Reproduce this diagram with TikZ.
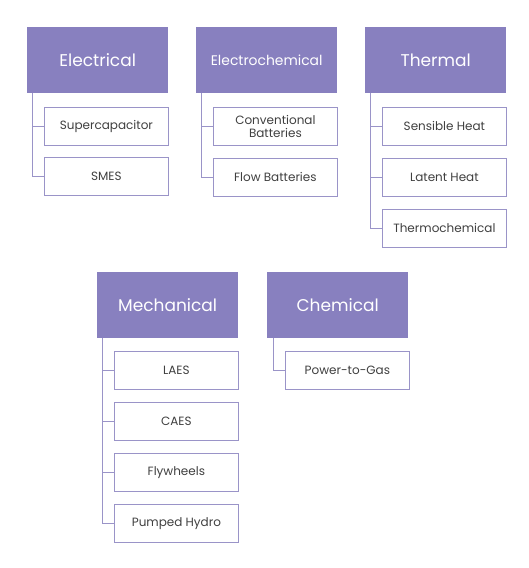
\documentclass[tikz,border=0pt]{standalone}
\usepackage{fontspec}
\setmainfont{Poppins}
\definecolor{hdr}{HTML}{8880BF}
\definecolor{bord}{HTML}{9A94C8}
\definecolor{txt}{HTML}{404040}
\tikzset{
  hdrbox/.style={fill=hdr, draw=none, text=white, minimum width=141pt, minimum height=66pt, inner sep=0pt, font=\fontsize{17}{19}\selectfont, anchor=north west},
  subbox/.style={fill=white, draw=bord, line width=0.8pt, text=txt, minimum width=124pt, minimum height=38pt, inner sep=0pt, align=center, font=\fontsize{12}{12.5}\selectfont, anchor=north west},
  conn/.style={draw=bord, line width=0.9pt}
}
\begin{document}
\begin{tikzpicture}[x=1pt,y=-1pt]
\useasboundingbox[fill=white] (0,0) rectangle (529,568);
% Electrical
\node[hdrbox] (el) at (27,27) {Electrical};
\node[subbox] (el1) at (44,107) {Supercapacitor};
\node[subbox] (el2) at (44,157) {SMES};
\draw[conn] ([xshift=5pt]el.south west) |- (el2.west);
\draw[conn] ([xshift=5pt]el.south west) |- (el1.west);
% Electrochemical
\node[hdrbox, font=\fontsize{13.9}{15}\selectfont] (ec) at (196,27) {Electrochemical};
\node[subbox] (ec1) at (213,107) {Conventional\\Batteries};
\node[subbox] (ec2) at (213,158) {Flow Batteries};
\draw[conn] ([xshift=5pt]ec.south west) |- (ec2.west);
\draw[conn] ([xshift=5pt]ec.south west) |- (ec1.west);
% Thermal
\node[hdrbox] (th) at (365,27) {Thermal};
\node[subbox] (th1) at (382,107) {Sensible Heat};
\node[subbox] (th2) at (382,158) {Latent Heat};
\node[subbox] (th3) at (382,209) {Thermochemical};
\draw[conn] ([xshift=5pt]th.south west) |- (th3.west);
\draw[conn] ([xshift=5pt]th.south west) |- (th2.west);
\draw[conn] ([xshift=5pt]th.south west) |- (th1.west);
% Mechanical
\node[hdrbox] (me) at (97,272) {Mechanical};
\node[subbox] (me1) at (114,351) {LAES};
\node[subbox] (me2) at (114,402) {CAES};
\node[subbox] (me3) at (114,453) {Flywheels};
\node[subbox] (me4) at (114,504) {Pumped Hydro};
\draw[conn] ([xshift=5pt]me.south west) |- (me4.west);
\draw[conn] ([xshift=5pt]me.south west) |- (me3.west);
\draw[conn] ([xshift=5pt]me.south west) |- (me2.west);
\draw[conn] ([xshift=5pt]me.south west) |- (me1.west);
% Chemical
\node[hdrbox] (ch) at (267,272) {Chemical};
\node[subbox] (ch1) at (285,351) {Power-to-Gas};
\draw[conn] ([xshift=6pt]ch.south west) |- (ch1.west);
\end{tikzpicture}
\end{document}
